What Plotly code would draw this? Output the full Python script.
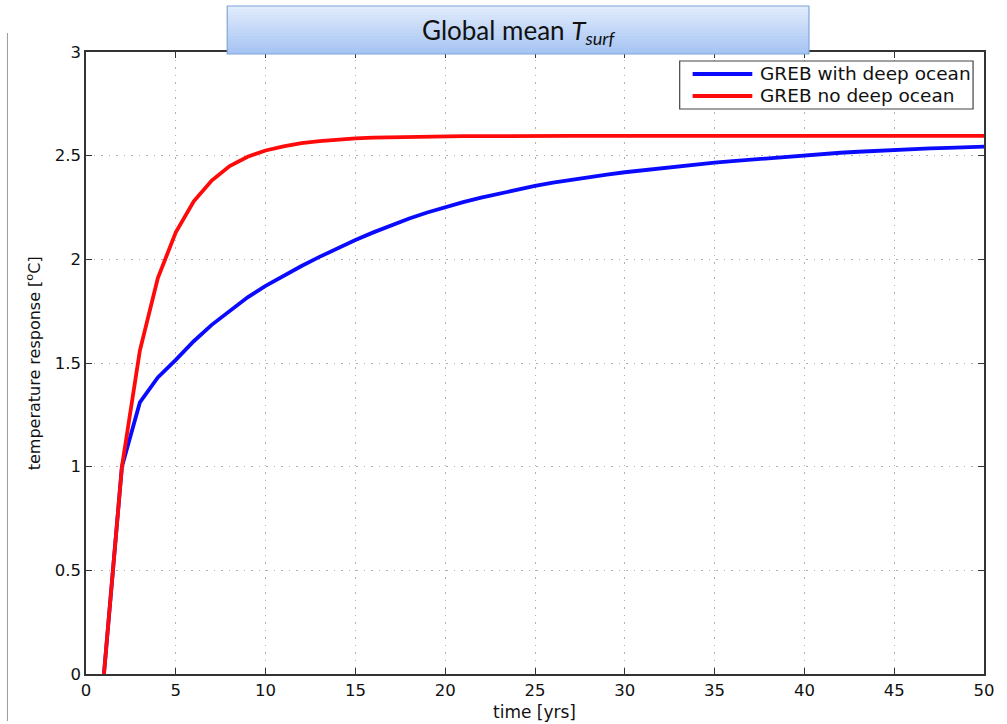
import plotly.graph_objects as go

years = list(range(1, 51))
with_deep_ocean = [0.0, 1.0, 1.31, 1.43, 1.515, 1.605, 1.684, 1.753, 1.817, 1.872,
                   1.922, 1.968, 2.012, 2.054, 2.093, 2.13, 2.165, 2.197, 2.226, 2.253,
                   2.276, 2.298, 2.318, 2.337, 2.354, 2.37, 2.384, 2.397, 2.409, 2.42,
                   2.43, 2.44, 2.449, 2.458, 2.466, 2.474, 2.481, 2.488, 2.496, 2.503,
                   2.509, 2.514, 2.519, 2.524, 2.528, 2.532, 2.535, 2.538, 2.541, 2.544]
no_deep_ocean = [0.0, 1.0, 1.56, 1.91, 2.13, 2.28, 2.38, 2.45, 2.495, 2.525,
                 2.545, 2.56, 2.57, 2.578, 2.583, 2.587, 2.589, 2.591, 2.592, 2.593,
                 2.594, 2.594, 2.595, 2.595, 2.595, 2.595, 2.595, 2.595, 2.595, 2.595,
                 2.595, 2.595, 2.595, 2.595, 2.595, 2.595, 2.595, 2.595, 2.595, 2.595,
                 2.595, 2.595, 2.595, 2.595, 2.595, 2.595, 2.595, 2.595, 2.595, 2.595]
series_names = ["GREB with deep ocean", "GREB no deep ocean"]
series_colors = ["#0a0aff", "#ff0a0a"]
x_ticks = [0, 5, 10, 15, 20, 25, 30, 35, 40, 45, 50]
y_ticks = [0, 0.5, 1, 1.5, 2, 2.5, 3]
y_tick_labels = ["0", "0.5", "1", "1.5", "2", "2.5", "3"]

W, H = 1007, 724
L, R, T, B = 86, 989, 52, 674
PW, PH = R - L, B - T
SANS = "DejaVu Sans, Liberation Sans, Arial, sans-serif"


def px(xp):
    return (xp - L) / PW


def py(yp):
    return (B - yp) / PH


fig = go.Figure()
for name, vals, col in zip(series_names, [with_deep_ocean, no_deep_ocean], series_colors):
    fig.add_trace(go.Scatter(x=years, y=vals, mode="lines", name=name,
                             line=dict(color=col, width=3.8), showlegend=False))

axis_common = dict(
    showline=True, linecolor="#333333", linewidth=1.5, mirror="ticks",
    ticks="inside", ticklen=6, tickcolor="#333333", tickwidth=1.2,
    showgrid=True, gridcolor="#b0b0b0", griddash="1.5px,6px", gridwidth=1.2,
    zeroline=False,
    tickfont=dict(family=SANS, size=16.5, color="#111111"),
)
fig.update_xaxes(range=[0, 50], tickvals=x_ticks, ticktext=[str(v) for v in x_ticks], **axis_common)
fig.update_yaxes(range=[0, 3], tickvals=y_ticks, ticktext=y_tick_labels, **axis_common)

shapes = []
# thin left border line
shapes.append(dict(type="line", xref="paper", yref="paper", x0=px(7), x1=px(7),
                   y0=py(33), y1=py(721), line=dict(color="#9a9a9a", width=1)))
# gradient title box
bx0, bx1, by0, by1 = 228, 813, 6, 54
n = 16
c_top = (224, 235, 252)
c_bot = (166, 196, 242)
for i in range(n):
    t = i / (n - 1)
    c = tuple(int(round(c_top[k] + (c_bot[k] - c_top[k]) * t)) for k in range(3))
    ya = by0 + (by1 - by0) * i / n
    yb = by0 + (by1 - by0) * (i + 1) / n
    shapes.append(dict(type="rect", xref="paper", yref="paper", x0=px(bx0), x1=px(bx1),
                       y0=py(ya), y1=py(yb), line=dict(width=0),
                       fillcolor="rgb(%d,%d,%d)" % c))
shapes.append(dict(type="rect", xref="paper", yref="paper", x0=px(bx0), x1=px(bx1),
                   y0=py(by0), y1=py(by1), line=dict(color="#7fa6dc", width=1.2),
                   fillcolor="rgba(0,0,0,0)"))
# legend box
lx0, lx1, ly0, ly1 = 683, 978, 61, 109
shapes.append(dict(type="rect", xref="paper", yref="paper", x0=px(lx0), x1=px(lx1),
                   y0=py(ly0), y1=py(ly1), line=dict(color="#444444", width=1.2),
                   fillcolor="white"))
annotations = []
for i, (name, col) in enumerate(zip(series_names, series_colors)):
    yy = 74 + i * 22
    shapes.append(dict(type="line", xref="paper", yref="paper", x0=px(696), x1=px(756),
                       y0=py(yy), y1=py(yy), line=dict(color=col, width=3.8)))
    annotations.append(dict(text=name, xref="paper", yref="paper", x=px(762), y=py(yy),
                            xanchor="left", yanchor="middle", showarrow=False,
                            font=dict(family=SANS, size=18.5, color="#111111")))

annotations.append(dict(text="Global mean <i>T<sub>surf</sub></i>", xref="paper", yref="paper",
                        x=px(521), y=py(31), xanchor="center", yanchor="middle", showarrow=False,
                        font=dict(family="Lato, Open Sans, sans-serif", size=26, color="#111111")))
annotations.append(dict(text="time [yrs]", xref="paper", yref="paper",
                        x=px(537), y=py(712), xanchor="center", yanchor="middle", showarrow=False,
                        font=dict(family=SANS, size=17, color="#111111")))
annotations.append(dict(text="temperature response [<sup>o</sup>C]", xref="paper", yref="paper",
                        x=px(33), y=py(363), xanchor="center", yanchor="middle", showarrow=False,
                        textangle=-90,
                        font=dict(family=SANS, size=16, color="#111111")))

fig.update_layout(
    width=W, height=H,
    margin=dict(l=L, r=W - R, t=T, b=H - B, pad=0),
    paper_bgcolor="white", plot_bgcolor="white",
    shapes=shapes, annotations=annotations, showlegend=False,
)

fig.write_html("out.html", config={"displayModeBar": False},
               post_script="document.body.style.margin='0';")
